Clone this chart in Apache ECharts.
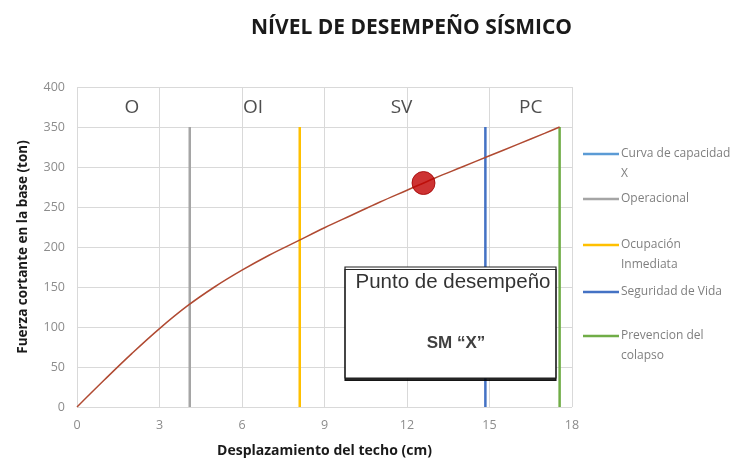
<!DOCTYPE html>
<html><head><meta charset="utf-8">
<script src="https://cdn.jsdelivr.net/npm/echarts@6/dist/echarts.min.js"></script>
<style>html,body{margin:0;padding:0;background:#fff}#c{width:754px;height:465px}</style>
</head><body><div id="c"></div>
<script>
var curveX = [0, 1, 2, 3, 4, 5, 6, 7, 8, 9, 10, 11, 12, 13, 14, 15, 16, 17, 17.55];
var curveY = [0, 34, 67, 98, 126, 150, 171, 190, 207, 224, 240, 256, 271, 286, 300, 314, 328, 342, 350];
var perfPoint = [12.6, 280];
var limitNames = ['Operacional', 'Ocupación Inmediata', 'Seguridad de Vida', 'Prevencion del colapso'];
var limitX = [4.1, 8.1, 14.85, 17.55];
var limitTop = 350;
var limitColors = ['#a5a5a5', '#ffc000', '#4472c4', '#70ad47'];
var regionLabels = ['O', 'OI', 'SV', 'PC'];
var regionX = [2, 6.4, 11.8, 16.5];
var regionY = 374;
var xTicks = [0, 3, 6, 9, 12, 15, 18];
var yTicks = [0, 50, 100, 150, 200, 250, 300, 350, 400];
var legendLines = [['Curva de capacidad', 'X'], ['Operacional'], ['Ocupación', 'Inmediata'], ['Seguridad de Vida'], ['Prevencion del', 'colapso']];
var legendColors = ['#5b9bd5', '#a5a5a5', '#ffc000', '#4472c4', '#70ad47'];
var legendY = [154, 199, 245, 292, 336];

var chart = echarts.init(document.getElementById('c'));
var series = [];
series.push({
  name: 'Curva de capacidad X', type: 'line', data: curveX.map(function (x, i) { return [x, curveY[i]]; }),
  smooth: 0.4, showSymbol: false, lineStyle: { color: '#b04a32', width: 1.5 }, z: 3
});
limitNames.forEach(function (n, i) {
  series.push({
    name: n, type: 'line', data: [[limitX[i], 0], [limitX[i], limitTop]], showSymbol: false,
    lineStyle: { color: limitColors[i], width: 2.5 }, z: 2
  });
});
series.push({
  name: 'Punto', type: 'scatter', data: [perfPoint], symbolSize: 23,
  itemStyle: { color: '#c00000', borderColor: '#a00000', borderWidth: 1 }, z: 5
});
series.push({
  name: 'Regiones', type: 'scatter', symbolSize: 0,
  data: regionLabels.map(function (l, i) { return { value: [regionX[i], regionY], name: l }; }),
  label: { show: true, formatter: '{b}', position: 'inside', fontFamily: 'Open Sans', fontSize: 19, color: '#222' }, z: 4
});

var graphics = [];
legendLines.forEach(function (lines, i) {
  graphics.push({ type: 'line', shape: { x1: 583, y1: legendY[i], x2: 619, y2: legendY[i] }, style: { stroke: legendColors[i], lineWidth: 2.5 } });
  lines.forEach(function (t, j) {
    graphics.push({ type: 'text', x: 621, y: legendY[i] + j * 20, style: { text: t, fontFamily: 'Open Sans', fontSize: 12, fill: '#7f7f7f', verticalAlign: 'middle' } });
  });
});
graphics.push({ type: 'rect', shape: { x: 345, y: 267, width: 211, height: 111 }, style: { fill: '#fff', stroke: '#222', lineWidth: 1.2, shadowColor: 'rgba(0,0,0,0.85)', shadowOffsetX: 0, shadowOffsetY: 2.5, shadowBlur: 0 }, z: 10 });
graphics.push({ type: 'text', x: 453, y: 282, style: { text: 'Punto de desempeño', fontFamily: 'Liberation Sans', fontSize: 20.5, fill: '#333', align: 'center', verticalAlign: 'middle' }, z: 11 });
graphics.push({ type: 'text', x: 456, y: 343, style: { text: 'SM “X”', fontFamily: 'Liberation Sans', fontWeight: 'bold', fontSize: 17, fill: '#404040', align: 'center', verticalAlign: 'middle' }, z: 11 });

chart.setOption({
  animation: false,
  title: { text: 'NÍVEL DE DESEMPEÑO SÍSMICO', left: 246, top: 13, textStyle: { fontFamily: 'Open Sans', fontWeight: 'bold', fontSize: 21, color: '#1a1a1a' } },
  grid: { left: 77, right: 182, top: 87, bottom: 58 },
  xAxis: {
    type: 'value', min: xTicks[0], max: xTicks[xTicks.length - 1], interval: 3,
    name: 'Desplazamiento del techo (cm)', nameLocation: 'middle', nameGap: 37,
    nameTextStyle: { fontFamily: 'Open Sans', fontWeight: 'bold', fontSize: 14, color: '#1a1a1a' },
    axisLine: { show: false }, axisTick: { show: false },
    axisLabel: { color: '#8c8c8c', fontFamily: 'Open Sans', fontSize: 12.5, margin: 12 },
    splitLine: { show: true, lineStyle: { color: '#d9d9d9', width: 1 } }
  },
  yAxis: {
    type: 'value', min: yTicks[0], max: yTicks[yTicks.length - 1], interval: 50,
    name: 'Fuerza cortante en la base (ton)', nameLocation: 'middle', nameGap: 47,
    nameTextStyle: { fontFamily: 'Open Sans', fontWeight: 'bold', fontSize: 13.5, color: '#1a1a1a' },
    axisLine: { show: false }, axisTick: { show: false },
    axisLabel: { color: '#8c8c8c', fontFamily: 'Open Sans', fontSize: 12.5, margin: 12 },
    splitLine: { show: true, lineStyle: { color: '#d9d9d9', width: 1 } }
  },
  series: series,
  graphic: graphics
});
</script></body></html>
